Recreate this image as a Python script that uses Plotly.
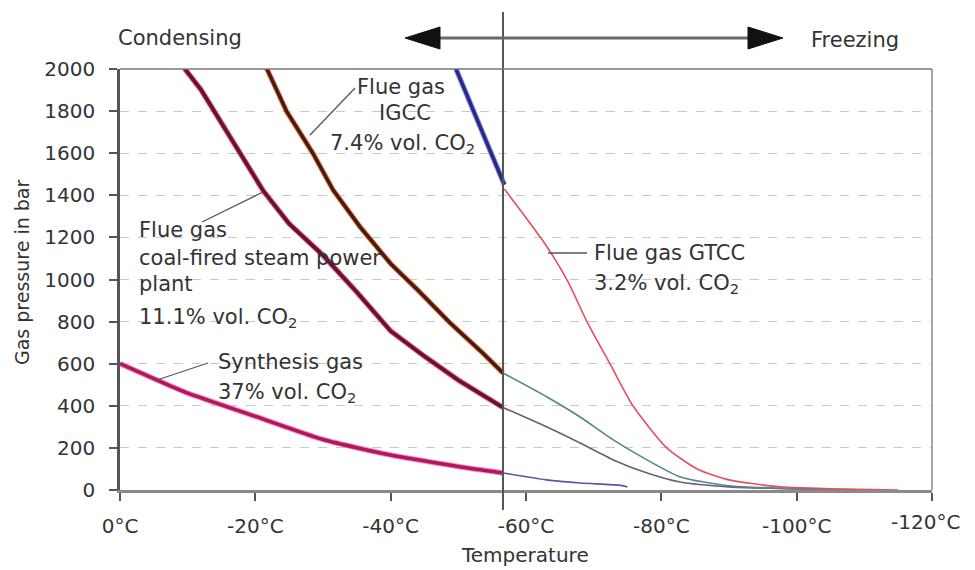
import plotly.graph_objects as go

# ---------------- data ----------------
x_tickvals = [0, -20, -40, -60, -80, -100, -120]
x_ticktext = ["0°C", "-20°C", "-40°C", "-60°C", "-80°C", "-100°C", "-120°C"]
y_tickvals = [0, 200, 400, 600, 800, 1000, 1200, 1400, 1600, 1800, 2000]

triple_T = -56.6  # CO2 triple point temperature (vertical line)

# Synthesis gas 37% vol CO2
syn_T_cond = [0, -5.5, -10, -20, -30, -40, -50, -56.6]
syn_P_cond = [600, 522, 460, 350, 240, 166, 112, 81]
syn_T_frz = [-56.6, -63, -68, -74, -75]
syn_P_frz = [81, 48, 33, 22, 14]

# Flue gas coal-fired steam power plant 11.1% vol CO2
coal_T_cond = [-8.9, -9.6, -12, -15, -18, -21.2, -25, -30, -35, -40, -45, -50, -56.6]
coal_P_cond = [2043, 2000, 1900, 1745, 1583, 1420, 1265, 1115, 940, 755, 635, 522, 392]
coal_T_frz = [-56.6, -63.1, -68, -72.9, -77.9, -82.8, -90, -100, -110]
coal_P_frz = [392, 299, 223, 143, 81, 38, 15, 5, 0]

# Flue gas IGCC 7.4% vol CO2
igcc_T_cond = [-21.1, -21.7, -24.6, -28.5, -31.5, -35.5, -40, -44, -48.8, -53.6, -56.6]
igcc_P_cond = [2043, 2000, 1800, 1600, 1425, 1249, 1075, 950, 793, 651, 556]
igcc_T_frz = [-56.6, -63.1, -68, -72.9, -77.9, -82.8, -90, -100, -110]
igcc_P_frz = [556, 442, 347, 238, 143, 62, 20, 6, 0]

# Flue gas GTCC 3.2% vol CO2
gtcc_T_cond = [-49.1, -56.8]
gtcc_P_cond = [2043, 1450]
gtcc_T_frz = [-56.8, -62.8, -66.2, -69, -72.4, -75.8, -80.8, -85.3, -90, -97.5, -107, -115]
gtcc_P_frz = [1430, 1170, 990, 800, 600, 400, 200, 100, 48, 15, 4, 0]

# ---------------- layout helpers ----------------
W, H = 966, 570
ML, MR, MT, MB = 120, 34, 69, 80
PW, PH = W - ML - MR, H - MT - MB
X_RANGE = [0, -120]
Y_RANGE = [0, 2000]


def px2T(px):
    return X_RANGE[0] + (px - ML) / PW * (X_RANGE[1] - X_RANGE[0])


def py2P(py):
    return Y_RANGE[0] + (MT + PH - py) / PH * (Y_RANGE[1] - Y_RANGE[0])


def pxp(px):
    return (px - ML) / PW


def pyp(py):
    return (MT + PH - py) / PH


FONT = "DejaVu Sans"
TXT = "#333333"

fig = go.Figure()

thin = [
    (syn_T_frz, syn_P_frz, "#5656a6"),
    (coal_T_frz, coal_P_frz, "#75587a"),
    (igcc_T_frz, igcc_P_frz, "#4f8888"),
    (gtcc_T_frz, gtcc_P_frz, "#e5505e"),
]
for T, P, c in thin:
    fig.add_trace(go.Scatter(x=T, y=P, mode="lines",
                             line=dict(color=c, width=1.6, shape="spline", smoothing=0.6),
                             hoverinfo="skip", showlegend=False))

thick = [
    (syn_T_cond, syn_P_cond, "#f28cc4", "#b0175e", "spline"),
    (coal_T_cond, coal_P_cond, "#e0607a", "#651035", "linear"),
    (igcc_T_cond, igcc_P_cond, "#e8905a", "#4a1a12", "linear"),
    (gtcc_T_cond, gtcc_P_cond, "#9a9ae0", "#262a88", "linear"),
]
for T, P, halo, c, shp in thick:
    fig.add_trace(go.Scatter(x=T, y=P, mode="lines",
                             line=dict(color=halo, width=5.5, shape=shp, smoothing=0.6),
                             hoverinfo="skip", showlegend=False))
    fig.add_trace(go.Scatter(x=T, y=P, mode="lines",
                             line=dict(color=c, width=3.5, shape=shp, smoothing=0.6),
                             hoverinfo="skip", showlegend=False))

shapes = []
# triple point vertical line (extends above and below the plot)
shapes.append(dict(type="line", xref="x", yref="paper", x0=triple_T, x1=triple_T,
                   y0=pyp(510), y1=pyp(12), line=dict(color="#555555", width=2), layer="above"))
# double arrow
ay = pyp(38)
shapes.append(dict(type="line", xref="paper", yref="paper", x0=pxp(430), x1=pxp(758),
                   y0=ay, y1=ay, line=dict(color="#6a6a6a", width=3)))
hh = 11 / PH
shapes.append(dict(type="path", xref="paper", yref="paper",
                   path=f"M {pxp(405)},{ay} L {pxp(440)},{ay + hh} L {pxp(440)},{ay - hh} Z",
                   fillcolor="#111111", line=dict(color="#111111", width=1)))
shapes.append(dict(type="path", xref="paper", yref="paper",
                   path=f"M {pxp(783)},{ay} L {pxp(748)},{ay + hh} L {pxp(748)},{ay - hh} Z",
                   fillcolor="#111111", line=dict(color="#111111", width=1)))
# leader lines for the labels
leaders = [((355, 88), (310, 135)),   # IGCC
           ((202, 222), (263, 192)),  # coal
           ((548, 253), (587, 253)),  # GTCC
           ((208, 363), (157, 380))]  # synthesis
for (xa, ya), (xb, yb) in leaders:
    shapes.append(dict(type="line", xref="x", yref="y", x0=px2T(xa), y0=py2P(ya),
                       x1=px2T(xb), y1=py2P(yb), line=dict(color="#555555", width=1.3)))

ann = []


def label(text, px, py, anchor="left", size=21):
    ann.append(dict(text=text, x=px2T(px), y=py2P(py), xref="x", yref="y",
                    xanchor=anchor, yanchor="middle", showarrow=False,
                    font=dict(family=FONT, size=size, color=TXT)))


CO2 = "CO<sub>2</sub>"
label("Flue gas", 401, 87, "center")
label("IGCC", 405, 113, "center")
label(f"7.4% vol. {CO2}", 402, 144, "center")
label("Flue gas", 137, 230)
label("coal-fired steam power", 137, 258)
label("plant", 137, 284)
label(f"11.1% vol. {CO2}", 137, 318)
label("Flue gas GTCC", 592, 253)
label(f"3.2% vol. {CO2}", 592, 284)
label("Synthesis gas", 216, 362)
label(f"37% vol. {CO2}", 216, 393)

ann.append(dict(text="Condensing", x=pxp(116), y=pyp(38), xref="paper", yref="paper",
                xanchor="left", yanchor="middle", showarrow=False,
                font=dict(family=FONT, size=21, color=TXT)))
ann.append(dict(text="Freezing", x=pxp(809), y=pyp(40), xref="paper", yref="paper",
                xanchor="left", yanchor="middle", showarrow=False,
                font=dict(family=FONT, size=21, color=TXT)))
ann.append(dict(text="Temperature", x=pxp(525), y=pyp(555), xref="paper", yref="paper",
                xanchor="center", yanchor="middle", showarrow=False,
                font=dict(family=FONT, size=20, color=TXT)))
ann.append(dict(text="Gas pressure in bar", x=pxp(22), y=pyp(273), xref="paper", yref="paper",
                xanchor="center", yanchor="middle", showarrow=False, textangle=-90,
                font=dict(family=FONT, size=19, color=TXT)))
# the last x tick label sits at the window edge; draw it right-aligned so it stays inside
ann.append(dict(text=x_ticktext[-1], x=pxp(962), y=pyp(522), xref="paper", yref="paper",
                xanchor="right", yanchor="middle", showarrow=False,
                font=dict(family=FONT, size=20, color=TXT)))

fig.update_layout(
    width=W, height=H,
    margin=dict(l=ML, r=MR, t=MT, b=MB, pad=0),
    paper_bgcolor="white", plot_bgcolor="white",
    showlegend=False,
    shapes=shapes, annotations=ann,
    font=dict(family=FONT, size=20, color=TXT),
)
fig.update_xaxes(range=X_RANGE, tickvals=x_tickvals, ticktext=x_ticktext[:-1] + [""],
                 showgrid=False, zeroline=False,
                 showline=True, linecolor="#8a8a8a", linewidth=3, mirror=False,
                 ticks="outside", ticklen=8, tickwidth=2, tickcolor="#555555",
                 ticklabelstandoff=8, tickfont=dict(family=FONT, size=20, color=TXT))
fig.update_yaxes(range=Y_RANGE, tickvals=y_tickvals,
                 showgrid=True, gridcolor="#c8c8c8", griddash="dash", gridwidth=1.3,
                 zeroline=False,
                 showline=True, linecolor="#555555", linewidth=2.5,
                 ticks="outside", ticklen=8, tickwidth=2, tickcolor="#555555",
                 ticklabelstandoff=10, tickfont=dict(family=FONT, size=20, color=TXT))
# top and right border of the plot area
fig.add_shape(type="line", xref="paper", yref="paper", x0=0, x1=1, y0=1, y1=1,
              line=dict(color="#777777", width=1.5))
fig.add_shape(type="line", xref="paper", yref="paper", x0=1, x1=1, y0=0, y1=1,
              line=dict(color="#888888", width=1.5))

# remove the default 8px page margin so the figure sits at the window's top-left corner
fig.write_html("out.html", config={"displayModeBar": False},
               post_script="document.body.style.margin='0';document.body.style.overflow='hidden';")
